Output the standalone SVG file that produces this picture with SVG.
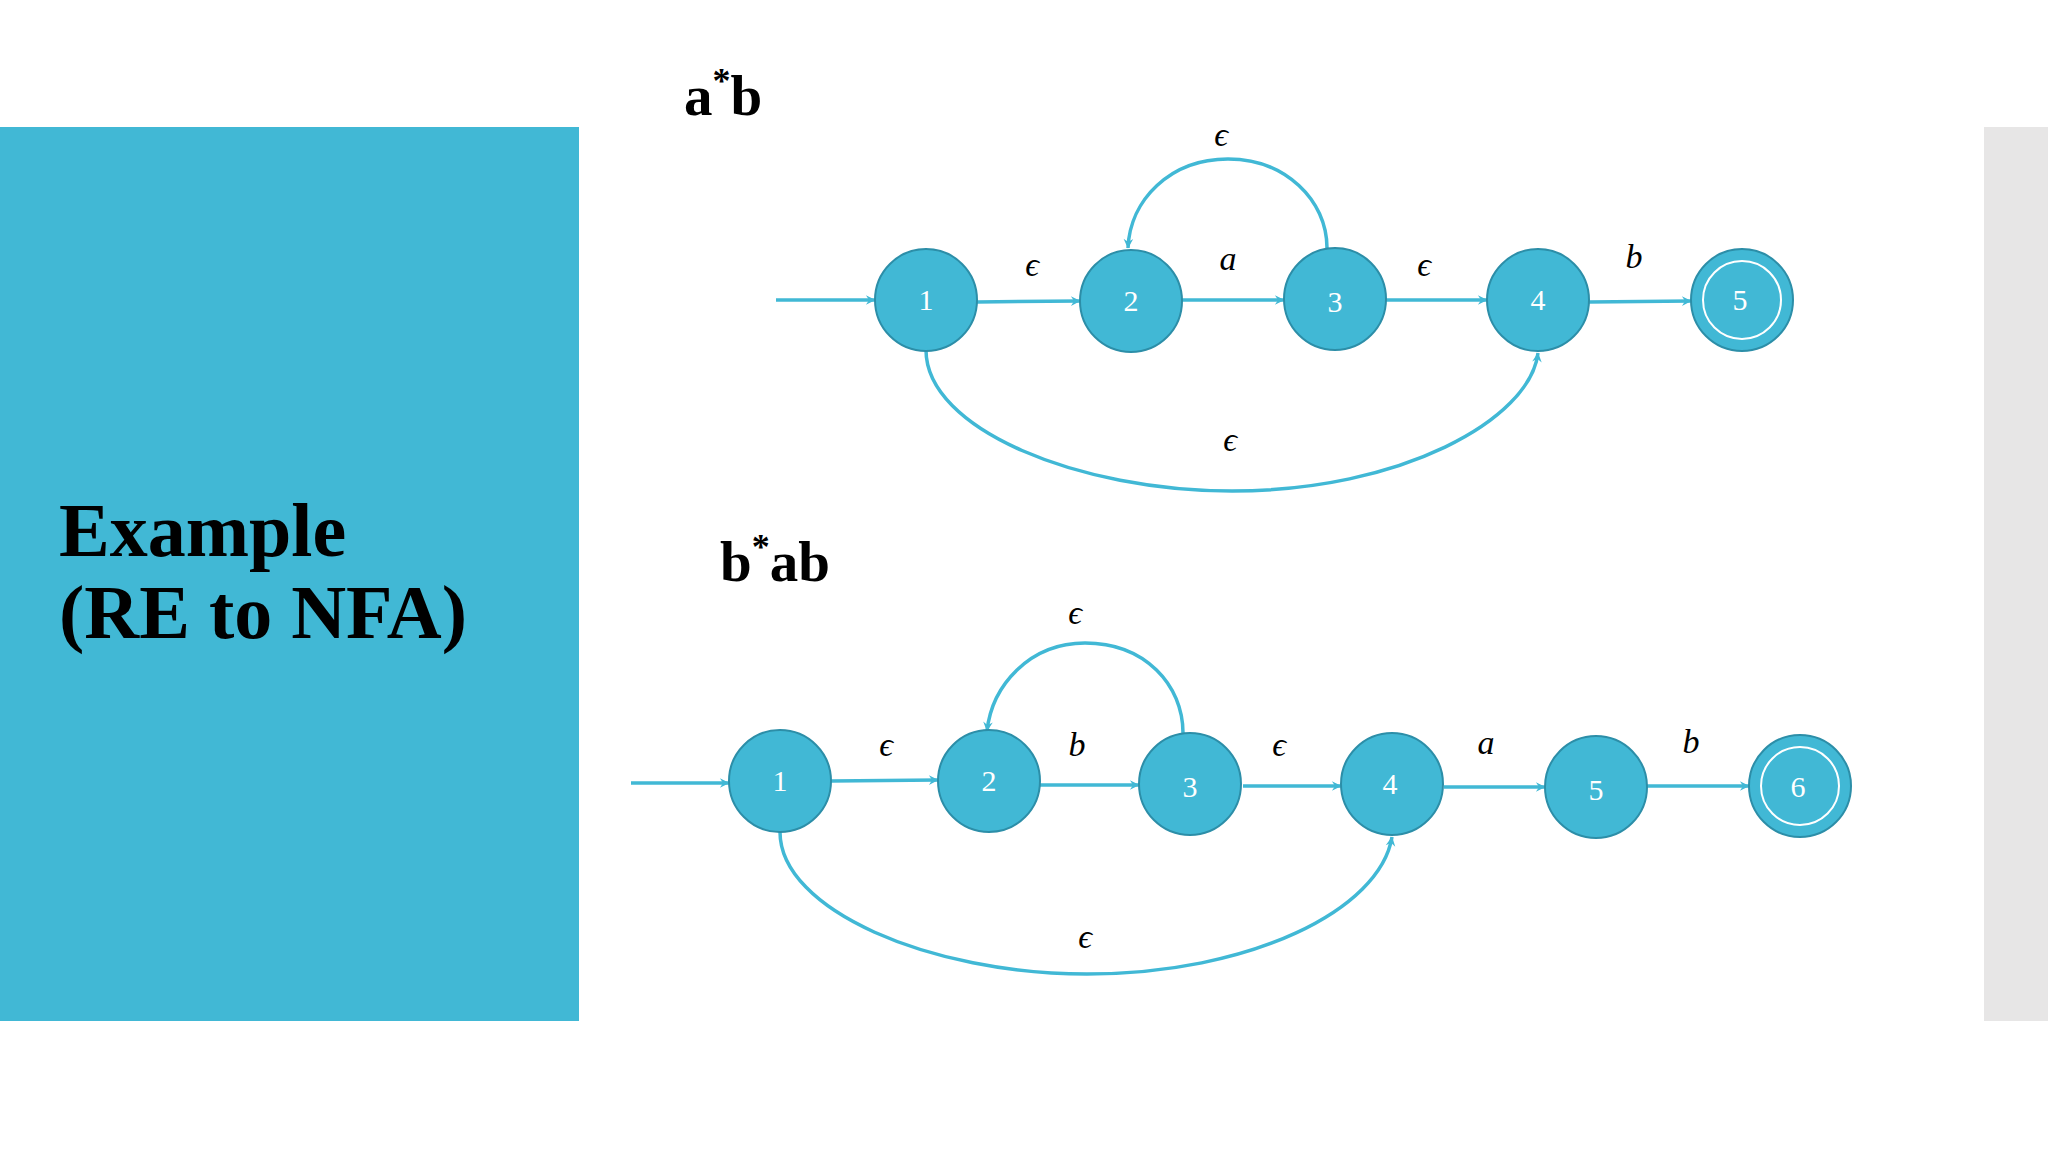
<svg xmlns="http://www.w3.org/2000/svg" width="2048" height="1152" viewBox="0 0 2048 1152">
<defs>
<style>
.n{fill:#41b8d5;stroke:#2c8ea8;stroke-width:2}
.ring{fill:none;stroke:#fff;stroke-width:2}
.nl{font-family:"Liberation Serif",serif;font-size:30px;fill:#fff;text-anchor:middle}
.e{fill:none;stroke:#41b8d5;stroke-width:3.5;marker-end:url(#ah)}
.el{font-family:"Liberation Serif",serif;font-style:italic;font-size:34px;fill:#000;text-anchor:middle}
.h{font-family:"Liberation Serif",serif;font-weight:bold;fill:#000}
</style>
<marker id="ah" viewBox="0 0 12 12" refX="11" refY="6" markerWidth="6" markerHeight="6" orient="auto" markerUnits="userSpaceOnUse" overflow="visible">
<path d="M0,0 L12,6 L0,12 L4,6 Z" fill="#41b8d5" transform="scale(1.6) translate(-4.5,-2.25)"/>
</marker>
</defs>
<rect width="2048" height="1152" fill="#fff"/>
<rect x="0" y="127" width="579" height="894" fill="#41b8d5"/>
<rect x="1984" y="127" width="64" height="894" fill="#e7e6e6"/>
<text class="h" x="59" y="556" font-size="76">Example</text>
<text class="h" x="59" y="638" font-size="76">(RE to NFA)</text>
<text class="h" x="684" y="115" font-size="57">a<tspan dy="-22" font-size="36">*</tspan><tspan dy="22">b</tspan></text>
<text class="h" x="720" y="581" font-size="57">b<tspan dy="-22" font-size="36">*</tspan><tspan dy="22">ab</tspan></text>
<g id="connectors">
<path class="e" d="M776,300 L875,300"/>
<path class="e" d="M977,302 L1080,301"/>
<path class="e" d="M1182,300 L1284,300"/>
<path class="e" d="M1386,300 L1487,300"/>
<path class="e" d="M1589,302 L1691,301"/>
<path class="e" d="M1327,248 C1327,200 1285,159 1228,159 C1170,159 1130,200 1128,248"/>
<path class="e" d="M926,350 C926,430 1080,491 1232,491 C1400,491 1530,420 1538,353"/>
<path class="e" d="M631,783 L729,783"/>
<path class="e" d="M831,781 L938,780"/>
<path class="e" d="M1040,785 L1139,785"/>
<path class="e" d="M1243,786 L1341,786"/>
<path class="e" d="M1444,787 L1545,787"/>
<path class="e" d="M1647,786 L1749,786"/>
<path class="e" d="M1183,733 C1183,685 1145,643 1085,643 C1030,643 992,685 987,731"/>
<path class="e" d="M780,832 C780,910 930,974 1087,974 C1250,974 1380,910 1392,837"/>
</g>
<g id="edge-labels">
<text class="el" x="1032" y="276">ϵ</text>
<text class="el" x="1228" y="270">a</text>
<text class="el" x="1424" y="276">ϵ</text>
<text class="el" x="1634" y="268">b</text>
<text class="el" x="1221" y="146">ϵ</text>
<text class="el" x="1230" y="451">ϵ</text>
<text class="el" x="886" y="756">ϵ</text>
<text class="el" x="1077" y="756">b</text>
<text class="el" x="1279" y="756">ϵ</text>
<text class="el" x="1486" y="754">a</text>
<text class="el" x="1691" y="753">b</text>
<text class="el" x="1075" y="624">ϵ</text>
<text class="el" x="1085" y="948">ϵ</text>
</g>
<g id="a1"><circle class="n" cx="926" cy="300" r="51"/><text class="nl" x="926" y="310">1</text></g>
<g id="a2"><circle class="n" cx="1131" cy="301" r="51"/><text class="nl" x="1131" y="311">2</text></g>
<g id="a3"><circle class="n" cx="1335" cy="299" r="51"/><text class="nl" x="1335" y="312">3</text></g>
<g id="a4"><circle class="n" cx="1538" cy="300" r="51"/><text class="nl" x="1538" y="310">4</text></g>
<g id="a5"><circle class="n" cx="1742" cy="300" r="51"/><circle class="ring" cx="1742" cy="300" r="39"/><text class="nl" x="1740" y="310">5</text></g>
<g id="b1"><circle class="n" cx="780" cy="781" r="51"/><text class="nl" x="780" y="791">1</text></g>
<g id="b2"><circle class="n" cx="989" cy="781" r="51"/><text class="nl" x="989" y="791">2</text></g>
<g id="b3"><circle class="n" cx="1190" cy="784" r="51"/><text class="nl" x="1190" y="797">3</text></g>
<g id="b4"><circle class="n" cx="1392" cy="784" r="51"/><text class="nl" x="1390" y="794">4</text></g>
<g id="b5"><circle class="n" cx="1596" cy="787" r="51"/><text class="nl" x="1596" y="800">5</text></g>
<g id="b6"><circle class="n" cx="1800" cy="786" r="51"/><circle class="ring" cx="1800" cy="786" r="39"/><text class="nl" x="1798" y="797">6</text></g>
</svg>
